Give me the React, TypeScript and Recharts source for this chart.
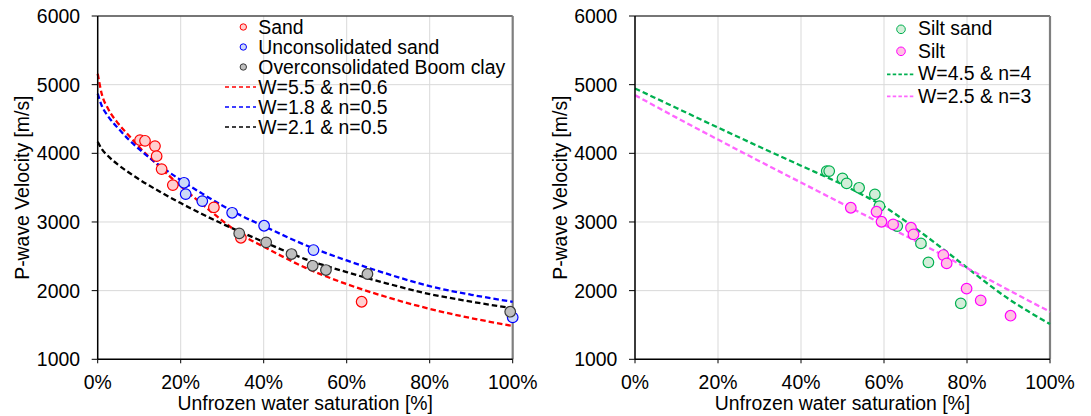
import {
  CartesianGrid,
  ComposedChart,
  Legend,
  Line,
  ReferenceLine,
  Scatter,
  XAxis,
  YAxis,
} from "recharts";

const FONT = '"Liberation Sans", Arial, sans-serif';
const FS = 19.4;

type Pt = [number, number];

// axis ticks
const majorX = [0, 20, 40, 60, 80, 100];
const minorX = [5, 10, 15, 25, 30, 35, 45, 50, 55, 65, 70, 75, 85, 90, 95];
const majorY = [1000, 2000, 3000, 4000, 5000, 6000];
const minorY = [1500, 2500, 3500, 4500, 5500];

// left panel: measurements (saturation %, velocity m/s)
const sandPts: Pt[] = [
  [10.2, 4192], [11.4, 4182], [13.8, 4105], [14.2, 3959], [15.4, 3770],
  [18.1, 3537], [28.0, 3213], [34.5, 2770], [63.6, 1838],
];
const unconsolPts: Pt[] = [
  [20.8, 3571], [21.2, 3406], [25.2, 3304], [32.4, 3134], [40.1, 2945],
  [52.0, 2591], [100, 1611],
];
const boomPts: Pt[] = [
  [34.1, 2834], [40.6, 2703], [46.7, 2533], [51.8, 2362], [55.0, 2300],
  [65.0, 2242], [99.4, 1693],
];

// left panel: fitted curves
const fitS = [0, 1, 2.5, 5, 7.5, 10, 15, 20, 25, 30, 35, 40, 50, 60, 70, 80, 90, 100];
const fitSand = [5160, 4860, 4650, 4430, 4260, 4090, 3800, 3520, 3270, 3020, 2800, 2640, 2335, 2095, 1900, 1735, 1600, 1485];
const fitUnconsol = [4870, 4690, 4540, 4360, 4200, 4060, 3820, 3610, 3420, 3240, 3080, 2940, 2665, 2440, 2240, 2065, 1940, 1838];
const fitBoom = [4168, 4060, 3960, 3830, 3720, 3620, 3440, 3275, 3120, 2975, 2840, 2710, 2460, 2270, 2100, 1950, 1840, 1742];

// right panel: measurements
const siltSandPts: Pt[] = [
  [46.2, 3741], [46.8, 3741], [50.0, 3635], [51.0, 3562], [54.0, 3498],
  [57.8, 3402], [58.9, 3231], [63.2, 2940], [68.9, 2688], [70.7, 2412],
  [78.5, 1815],
];
const siltPts: Pt[] = [
  [52.0, 3207], [58.2, 3149], [59.4, 3003], [62.2, 2965], [66.5, 2916],
  [67.1, 2820], [74.3, 2518], [75.1, 2397], [79.9, 2030], [83.3, 1858],
  [90.5, 1635],
];

// right panel: fitted curves
const fitS2 = [0, 10, 20, 30, 40, 50, 55, 60, 65, 70, 75, 80, 85, 90, 95, 100];
const fitSiltSand = [4945, 4660, 4375, 4095, 3820, 3545, 3390, 3225, 3020, 2800, 2570, 2335, 2100, 1880, 1690, 1514];
const fitSilt = [4847, 4520, 4200, 3885, 3575, 3265, 3112, 2960, 2805, 2650, 2490, 2330, 2170, 2010, 1850, 1693];

const toRows = (pts: Pt[]) => pts.map(([s, v]) => ({ s, v }));
const fitRows = (s: number[], v: number[]) => s.map((x, i) => ({ s: x, v: v[i] }));

interface PointSet {
  name: string;
  pts: Pt[];
  stroke: string;
  fill: string;
}
interface FitSet {
  name: string;
  s: number[];
  v: number[];
  color: string;
}
interface LegendCfg {
  left: number;
  top: number;
  rowH: number;
  iconW: number;
  dotX: number;
  dotR: number;
  gap: number;
  dash: string;
}

function LegendBox({ sets, fits, cfg }: { sets: PointSet[]; fits: FitSet[]; cfg: LegendCfg }) {
  const mid = cfg.rowH / 2;
  return (
    <div style={{ fontFamily: FONT, fontSize: FS, color: "#000", lineHeight: 1 }}>
      {sets.map((p) => (
        <div key={p.name} style={{ display: "flex", alignItems: "center", height: cfg.rowH }}>
          <svg width={cfg.iconW} height={cfg.rowH}>
            <circle cx={cfg.dotX} cy={mid} r={cfg.dotR} fill={p.fill} stroke={p.stroke} strokeWidth={1} />
          </svg>
          <span style={{ marginLeft: cfg.gap, whiteSpace: "nowrap" }}>{p.name}</span>
        </div>
      ))}
      {fits.map((f) => (
        <div key={f.name} style={{ display: "flex", alignItems: "center", height: cfg.rowH }}>
          <svg width={cfg.iconW} height={cfg.rowH}>
            <line x1={0} x2={cfg.iconW} y1={mid} y2={mid} stroke={f.color} strokeWidth={1.7} strokeDasharray={cfg.dash} />
          </svg>
          <span style={{ marginLeft: cfg.gap, whiteSpace: "nowrap" }}>{f.name}</span>
        </div>
      ))}
    </div>
  );
}

interface PanelProps {
  width: number;
  axisW: number;
  right: number;
  yLabelX: number;
  sets: PointSet[];
  fits: FitSet[];
  legend: LegendCfg;
}

function Panel({ width, axisW, right, yLabelX, sets, fits, legend }: PanelProps) {
  const tickStyle = { fontSize: FS, fill: "#000", fontFamily: FONT };
  return (
    <ComposedChart
      width={width}
      height={416}
      margin={{ top: 16, right, bottom: 20.7, left: 0 }}
      style={{ fontFamily: FONT }}
    >
      <CartesianGrid stroke="#d9d9d9" strokeWidth={1} />
      <XAxis
        type="number"
        dataKey="s"
        domain={[0, 100]}
        ticks={majorX}
        interval={0}
        tickFormatter={(v: number) => `${v}%`}
        height={36}
        tickSize={4}
        tickMargin={11.7}
        axisLine={{ stroke: "#000", strokeWidth: 1.5 }}
        tickLine={{ stroke: "#000" }}
        tick={tickStyle}
        label={{
          value: "Unfrozen water saturation [%]",
          position: "bottom",
          offset: 0.7,
          style: { fontSize: FS, fill: "#000", fontFamily: FONT },
        }}
      />
      <XAxis
        xAxisId="minor"
        type="number"
        domain={[0, 100]}
        ticks={minorX}
        interval={0}
        mirror
        tick={false}
        axisLine={false}
        tickSize={4}
        tickLine={{ stroke: "#000" }}
      />
      <YAxis
        type="number"
        dataKey="v"
        domain={[1000, 6000]}
        ticks={majorY}
        interval={0}
        width={axisW}
        tickSize={6}
        tickMargin={11.7}
        axisLine={{ stroke: "#000", strokeWidth: 1.5 }}
        tickLine={{ stroke: "#000" }}
        tick={tickStyle}
        label={{
          value: "P-wave Velocity [m/s]",
          angle: -90,
          position: "insideLeft",
          offset: yLabelX,
          style: { textAnchor: "middle", fontSize: FS, fill: "#000", fontFamily: FONT },
        }}
      />
      <YAxis
        yAxisId="minor"
        type="number"
        domain={[1000, 6000]}
        ticks={minorY}
        interval={0}
        mirror
        tick={false}
        axisLine={false}
        tickSize={4}
        tickLine={{ stroke: "#000" }}
      />
      <ReferenceLine y={6000} stroke="#000" strokeWidth={1.2} />
      <ReferenceLine x={100} stroke="#7f7f7f" strokeWidth={2.2} />
      {sets.map((p) => (
        <Scatter
          key={p.name}
          name={p.name}
          data={toRows(p.pts)}
          isAnimationActive={false}
          shape={(props: any) => (
            <circle cx={props.cx} cy={props.cy} r={5.3} fill={p.fill} stroke={p.stroke} strokeWidth={1.2} />
          )}
        />
      ))}
      {fits.map((f) => (
        <Line
          key={f.name}
          name={f.name}
          data={fitRows(f.s, f.v)}
          dataKey="v"
          type="monotone"
          stroke={f.color}
          strokeWidth={2.3}
          strokeDasharray="5.5 3"
          dot={false}
          activeDot={false}
          isAnimationActive={false}
        />
      ))}
      <Legend
        layout="horizontal"
        verticalAlign="middle"
        align="center"
        wrapperStyle={{ left: legend.left, top: legend.top, width: "auto", height: "auto" }}
        content={() => <LegendBox sets={sets} fits={fits} cfg={legend} />}
      />
    </ComposedChart>
  );
}

const leftSets: PointSet[] = [
  { name: "Sand", pts: sandPts, stroke: "#ff0000", fill: "#ffcfcf" },
  { name: "Unconsolidated sand", pts: unconsolPts, stroke: "#0000ff", fill: "#cdd9f7" },
  { name: "Overconsolidated Boom clay", pts: boomPts, stroke: "#3a3a3a", fill: "#bfbfbf" },
];
const leftFits: FitSet[] = [
  { name: "W=5.5 & n=0.6", s: fitS, v: fitSand, color: "#ff0000" },
  { name: "W=1.8 & n=0.5", s: fitS, v: fitUnconsol, color: "#0000ff" },
  { name: "W=2.1 & n=0.5", s: fitS, v: fitBoom, color: "#000000" },
];
const rightSets: PointSet[] = [
  { name: "Silt sand", pts: siltSandPts, stroke: "#00b050", fill: "#d3eed9" },
  { name: "Silt", pts: siltPts, stroke: "#ff00ff", fill: "#ffc2e2" },
];
const rightFits: FitSet[] = [
  { name: "W=4.5 & n=4", s: fitS2, v: fitSiltSand, color: "#00b050" },
  { name: "W=2.5 & n=3", s: fitS2, v: fitSilt, color: "#ff66ff" },
];

export default function App() {
  return (
    <div
      style={{
        position: "absolute",
        left: 0,
        top: 0,
        width: 1091,
        height: 416,
        background: "#fff",
        fontFamily: FONT,
      }}
    >
      <div style={{ position: "absolute", left: 0, top: 0 }}>
        <Panel
          width={545}
          axisW={97.7}
          right={32.3}
          yLabelX={22}
          sets={leftSets}
          fits={leftFits}
          legend={{ left: 225, top: 17.3, rowH: 20, iconW: 31, dotX: 18.3, dotR: 3.2, gap: 2.3, dash: "4 3" }}
        />
      </div>
      <div style={{ position: "absolute", left: 545, top: 0 }}>
        <Panel
          width={546}
          axisW={90}
          right={41}
          yLabelX={15}
          sets={rightSets}
          fits={rightFits}
          legend={{ left: 342, top: 17.6, rowH: 22.6, iconW: 28, dotX: 14, dotR: 4.3, gap: 3, dash: "3.5 2.2" }}
        />
      </div>
    </div>
  );
}
